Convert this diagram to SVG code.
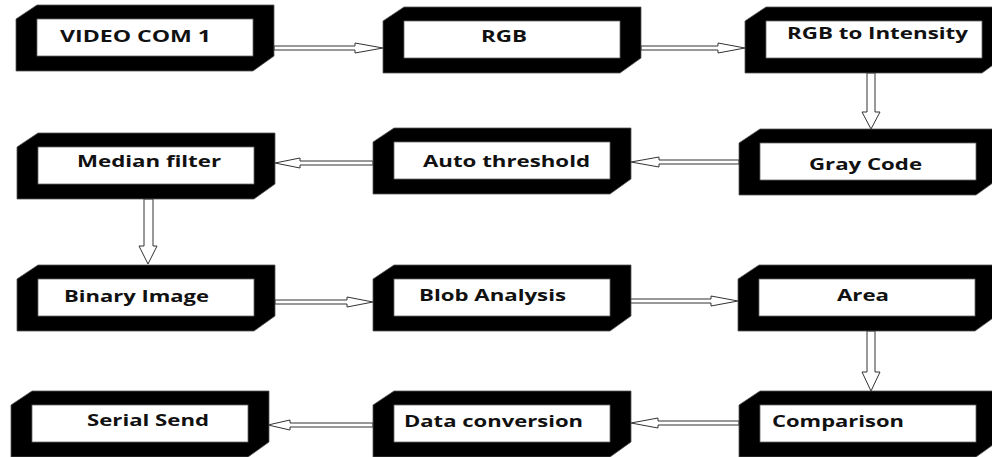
<svg xmlns="http://www.w3.org/2000/svg" xmlns:xlink="http://www.w3.org/1999/xlink" width="992" height="457" viewBox="0 0 992 457">
<style>
.lbl{font-family:"Open Sans","Noto Sans","DejaVu Sans",sans-serif;font-weight:bold;font-size:16px;fill:#111}
.arr{fill:#fff;stroke:#333;stroke-width:1}
</style>
<defs>
<g id="box">
<polygon points="0,14 21,0 258,0 258,51 237,66 0,66" fill="#000" stroke="#555" stroke-width="0.8"/>
<rect x="21" y="14" width="216" height="37" fill="#fff" stroke="#666" stroke-width="0.8"/>
</g>
</defs>
<rect width="992" height="457" fill="#fff"/>
<g id="connectors">
<polygon class="arr" points="274,46 355,46 355,43 383,48 355,53 355,50 274,50"/>
<polygon class="arr" points="641,46 718,46 718,43 745,48 718,53 718,50 641,50"/>
<polygon class="arr" points="867,73 867,112 862,112 871,129 880,112 875,112 875,73"/>
<polygon class="arr" points="739,160 659,160 659,157 631,162 659,167 659,164 739,164"/>
<polygon class="arr" points="373,161 300,161 300,158 275,163 300,168 300,165 373,165"/>
<polygon class="arr" points="144,199 144,246 139,246 148,264 157,246 153,246 153,199"/>
<polygon class="arr" points="275,300 347,300 347,297 373,302 347,307 347,304 275,304"/>
<polygon class="arr" points="629,299 711,299 711,296 738,301 711,306 711,303 629,303"/>
<polygon class="arr" points="867,331 867,372 862,372 871,391 880,372 875,372 875,331"/>
<polygon class="arr" points="739,421 658,421 658,418 631,423 658,428 658,425 739,425"/>
<polygon class="arr" points="373,423 290,423 290,420 268,425 290,430 290,427 373,427"/>
</g>
<g id="n1"><use xlink:href="#box" x="16" y="5"/><text class="lbl" x="60" y="42" textLength="151" lengthAdjust="spacingAndGlyphs">VIDEO COM 1</text></g>
<g id="n2"><use xlink:href="#box" x="383" y="7"/><text class="lbl" x="481" y="42" textLength="46" lengthAdjust="spacingAndGlyphs">RGB</text></g>
<g id="n3"><use xlink:href="#box" x="745" y="7"/><text class="lbl" x="787" y="39" textLength="181" lengthAdjust="spacingAndGlyphs">RGB to Intensity</text></g>
<g id="n4"><use xlink:href="#box" x="17" y="133"/><text class="lbl" x="77" y="167" textLength="144" lengthAdjust="spacingAndGlyphs">Median filter</text></g>
<g id="n5"><use xlink:href="#box" x="373" y="128"/><text class="lbl" x="423" y="167" textLength="167" lengthAdjust="spacingAndGlyphs">Auto threshold</text></g>
<g id="n6"><use xlink:href="#box" x="739" y="129"/><text class="lbl" x="809" y="170" textLength="113" lengthAdjust="spacingAndGlyphs">Gray Code</text></g>
<g id="n7"><use xlink:href="#box" x="17" y="265"/><text class="lbl" x="64" y="302" textLength="145" lengthAdjust="spacingAndGlyphs">Binary Image</text></g>
<g id="n8"><use xlink:href="#box" x="373" y="265"/><text class="lbl" x="419" y="301" textLength="147" lengthAdjust="spacingAndGlyphs">Blob Analysis</text></g>
<g id="n9"><use xlink:href="#box" x="738" y="265"/><text class="lbl" x="837" y="301" textLength="52" lengthAdjust="spacingAndGlyphs">Area</text></g>
<g id="n10"><use xlink:href="#box" x="11" y="391"/><text class="lbl" x="87" y="426" textLength="122" lengthAdjust="spacingAndGlyphs">Serial Send</text></g>
<g id="n11"><use xlink:href="#box" x="373" y="391"/><text class="lbl" x="404" y="427" textLength="179" lengthAdjust="spacingAndGlyphs">Data conversion</text></g>
<g id="n12"><use xlink:href="#box" x="739" y="391"/><text class="lbl" x="772" y="427" textLength="132" lengthAdjust="spacingAndGlyphs">Comparison</text></g>
</svg>
